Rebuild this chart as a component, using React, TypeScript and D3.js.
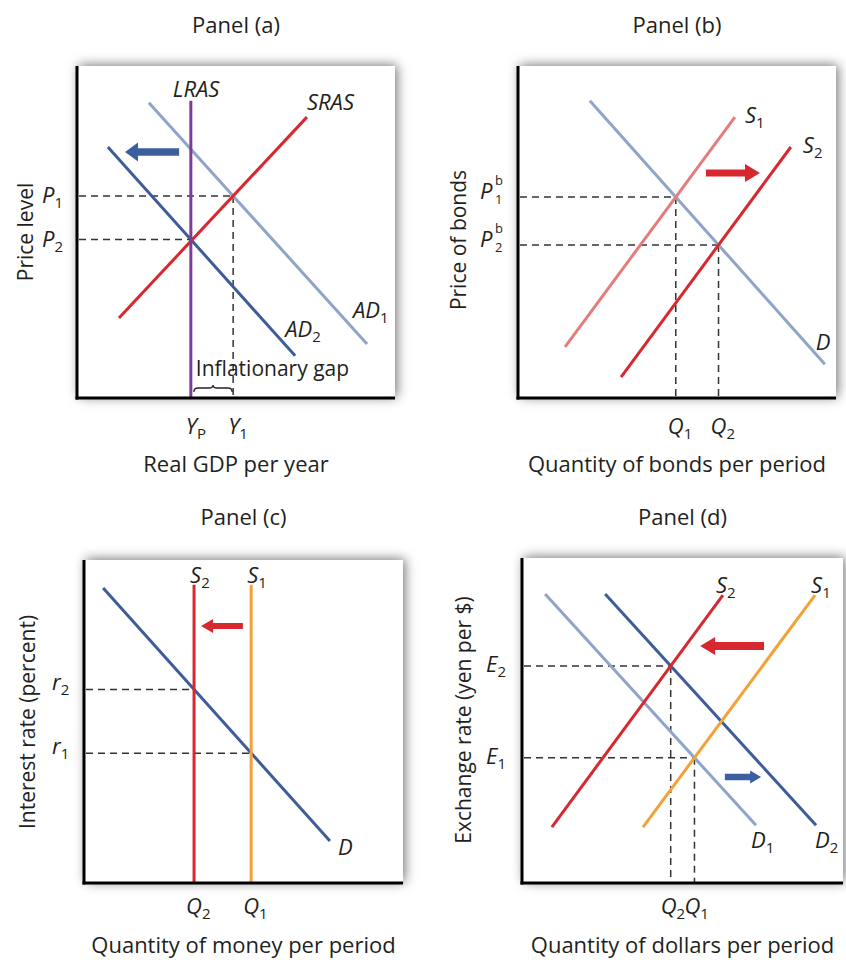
import React from 'react';
import * as d3 from 'd3';

type Pt = [number, number];
interface Curve { id: string; name: string; sub?: string; pts: Pt[] }
interface Eq { cross: [string, string]; yLab: string[]; xLab: string[]; hDash: boolean; vDash: boolean }
interface Shift { id: string; from: Pt; to: Pt }

// ---------------- Panel (a) ----------------
const aTitle = 'Panel (a)';
const aXTitle = 'Real GDP per year';
const aYTitle = 'Price level';
const aCurves: Curve[] = [
  { id: 'AD1', name: 'AD', sub: '1', pts: [[22.6, 88.9], [91.2, 16.3]] },
  { id: 'AD2', name: 'AD', sub: '2', pts: [[9.7, 75.6], [68.6, 12.7]] },
  { id: 'SRAS', name: 'SRAS', pts: [[13.2, 24.1], [72.3, 84.6]] },
  { id: 'LRAS', name: 'LRAS', pts: [[35.8, 0], [35.8, 89.5]] },
];
const aEquilibria: Eq[] = [
  { cross: ['AD1', 'SRAS'], yLab: ['P', '1'], xLab: ['Y', '1'], hDash: true, vDash: true },
  { cross: ['AD2', 'LRAS'], yLab: ['P', '2'], xLab: ['Y', 'P'], hDash: true, vDash: false },
];
const aShifts: Shift[] = [{ id: 'blueL', from: [32.1, 74.1], to: [15.1, 74.1] }];
const aGapLabel = 'Inflationary gap';

// ---------------- Panel (b) ----------------
const bTitle = 'Panel (b)';
const bXTitle = 'Quantity of bonds per period';
const bYTitle = 'Price of bonds';
const bCurves: Curve[] = [
  { id: 'D', name: 'D', pts: [[22.6, 89.5], [96.5, 10.2]] },
  { id: 'S1', name: 'S', sub: '1', pts: [[14.8, 15.4], [68.2, 84.6]] },
  { id: 'S2', name: 'S', sub: '2', pts: [[32.4, 6.3], [85.8, 75.6]] },
];
const bEquilibria: Eq[] = [
  { cross: ['D', 'S1'], yLab: ['P', '1', 'b'], xLab: ['Q', '1'], hDash: true, vDash: true },
  { cross: ['D', 'S2'], yLab: ['P', '2', 'b'], xLab: ['Q', '2'], hDash: true, vDash: true },
];
const bShifts: Shift[] = [{ id: 'redR', from: [59.1, 67.8], to: [76.1, 67.8] }];

// ---------------- Panel (c) ----------------
const cTitle = 'Panel (c)';
const cXTitle = 'Quantity of money per period';
const cYTitle = 'Interest rate (percent)';
const cCurves: Curve[] = [
  { id: 'D', name: 'D', pts: [[6.0, 91.3], [77.1, 13.0]] },
  { id: 'S2', name: 'S', sub: '2', pts: [[34.5, 0], [34.5, 92.3]] },
  { id: 'S1', name: 'S', sub: '1', pts: [[52.4, 0], [52.4, 92.3]] },
];
const cEquilibria: Eq[] = [
  { cross: ['D', 'S2'], yLab: ['r', '2'], xLab: ['Q', '2'], hDash: true, vDash: false },
  { cross: ['D', 'S1'], yLab: ['r', '1'], xLab: ['Q', '1'], hDash: true, vDash: false },
];
const cShifts: Shift[] = [{ id: 'redS', from: [49.8, 79.6], to: [36.7, 79.6] }];

// ---------------- Panel (d) ----------------
const dTitle = 'Panel (d)';
const dXTitle = 'Quantity of dollars per period';
const dYTitle = 'Exchange rate (yen per $)';
const dCurves: Curve[] = [
  { id: 'D1', name: 'D', sub: '1', pts: [[7.2, 88.9], [72.9, 17.8]] },
  { id: 'D2', name: 'D', sub: '2', pts: [[25.9, 88.9], [91.6, 17.8]] },
  { id: 'S1', name: 'S', sub: '1', pts: [[37.7, 17.2], [91.3, 88.6]] },
  { id: 'S2', name: 'S', sub: '2', pts: [[9.3, 17.2], [62.6, 88.6]] },
];
const dEquilibria: Eq[] = [
  { cross: ['D2', 'S2'], yLab: ['E', '2'], xLab: ['Q', '2'], hDash: true, vDash: true },
  { cross: ['D1', 'S1'], yLab: ['E', '1'], xLab: ['Q', '1'], hDash: true, vDash: true },
];
const dShifts: Shift[] = [
  { id: 'redD', from: [75.4, 72.9], to: [55.5, 72.9] },
  { id: 'blueD', from: [63.2, 32.6], to: [74.5, 32.6] },
];

// ---------------- Styles & layout ----------------
const RED = '#d7282f';
const LIGHTBLUE = '#8fa4c9';
const DARKBLUE = '#3e5c9a';
const ORANGE = '#f4a238';
const PINK = '#e47c7c';
const PURPLE = '#7d3c98';
const INK = '#231f20';
const FONT = '"Open Sans", sans-serif';

interface Layout {
  box: [number, number, number, number];
  titleY: number; xTitleY: number; yTitleX: number; yTitleCy: number;
  colors: Record<string, string>;
  labelOff: Record<string, Pt>;
  yTickDx: number; yTickDy: number; xTickDx: number; xTickDy: number;
  arrows: Record<string, { color: string; shaft: number; head: number; half: number }>;
}

const LA: Layout = {
  box: [77, 66, 395, 398], titleY: 33, xTitleY: 472, yTitleX: 33, yTitleCy: 232,
  colors: { LRAS: PURPLE, SRAS: RED, AD1: LIGHTBLUE, AD2: DARKBLUE },
  labelOff: { LRAS: [-18, -4], SRAS: [0, -7], AD1: [-14, -26], AD2: [-10, -19] },
  yTickDx: -35, yTickDy: 7, xTickDx: -5, xTickDy: 36,
  arrows: { blueL: { color: '#3d5fa0', shaft: 7.5, head: 13, half: 9.5 } },
};
const LB: Layout = {
  box: [518, 66, 836, 398], titleY: 33, xTitleY: 472, yTitleX: 466, yTitleCy: 240,
  colors: { D: LIGHTBLUE, S1: PINK, S2: RED },
  labelOff: { S1: [10, 6], S2: [12, 6], D: [-9, -14] },
  yTickDx: -38, yTickDy: 2, xTickDx: -8, xTickDy: 36,
  arrows: { redR: { color: RED, shaft: 7, head: 15, half: 9 } },
};
const LC: Layout = {
  box: [84, 560, 403, 883], titleY: 525, xTitleY: 953, yTitleX: 35, yTitleCy: 722,
  colors: { D: DARKBLUE, S1: ORANGE, S2: RED },
  labelOff: { S1: [-4, -2], S2: [-4, -2], D: [8, 14] },
  yTickDx: -32, yTickDy: 1, xTickDx: -8, xTickDy: 31,
  arrows: { redS: { color: RED, shaft: 6, head: 12, half: 7 } },
};
const LD: Layout = {
  box: [522, 558, 843, 883], titleY: 525, xTitleY: 953, yTitleX: 471, yTitleCy: 720,
  colors: { D1: LIGHTBLUE, D2: DARKBLUE, S1: ORANGE, S2: RED },
  labelOff: { S1: [-4, -2], S2: [-7, -2], D1: [-5, 23], D2: [-1, 23] },
  yTickDx: -36, yTickDy: 6, xTickDx: -10, xTickDy: 31,
  arrows: {
    redD: { color: RED, shaft: 8, head: 15, half: 9 },
    blueD: { color: '#3d5fa0', shaft: 6.5, head: 11, half: 6.5 },
  },
};

function intersect(p: Pt[], q: Pt[]): Pt {
  const [[x1, y1], [x2, y2]] = p;
  const [[x3, y3], [x4, y4]] = q;
  const den = (x1 - x2) * (y3 - y4) - (y1 - y2) * (x3 - x4);
  const t = ((x1 - x3) * (y3 - y4) - (y1 - y3) * (x3 - x4)) / den;
  return [x1 + t * (x2 - x1), y1 + t * (y2 - y1)];
}

function arrowPath(x1: number, y1: number, x2: number, y2: number, shaft: number, head: number, half: number) {
  const dx = x2 - x1, dy = y2 - y1, L = Math.hypot(dx, dy);
  const ux = dx / L, uy = dy / L, nx = -uy, ny = ux;
  const bx = x2 - ux * head, by = y2 - uy * head, s = shaft / 2;
  const pts: Pt[] = [
    [x1 + nx * s, y1 + ny * s], [bx + nx * s, by + ny * s], [bx + nx * half, by + ny * half],
    [x2, y2], [bx - nx * half, by - ny * half], [bx - nx * s, by - ny * s], [x1 - nx * s, y1 - ny * s],
  ];
  return (d3.line()(pts) || '') + 'Z';
}

function Sym({ x, y, main, sub, sup, size = 22 }:
  { x: number; y: number; main: string; sub?: string; sup?: string; size?: number }) {
  const ss = 15;
  if (sup) {
    return (
      <g fill={INK} fontFamily={FONT}>
        <text x={x} y={y} fontSize={size} fontStyle="italic">{main}</text>
        <text x={x + 15} y={y - 14} fontSize={13}>{sup}</text>
        <text x={x + 15} y={y + 5} fontSize={13}>{sub}</text>
      </g>
    );
  }
  return (
    <text x={x} y={y} fontSize={size} fontStyle="italic" fill={INK} fontFamily={FONT}>
      <tspan>{main}</tspan>
      {sub && <tspan fontStyle="normal" fontSize={ss} dy={5}>{sub}</tspan>}
    </text>
  );
}

function Panel({ L, title, xTitle, yTitle, curves, eqs, shifts, gap }:
  { L: Layout; title: string; xTitle: string; yTitle: string; curves: Curve[]; eqs: Eq[]; shifts: Shift[]; gap?: string }) {
  const [x0, y0, x1, y1] = L.box;
  const xs = d3.scaleLinear().domain([0, 100]).range([x0, x1]);
  const ys = d3.scaleLinear().domain([0, 100]).range([y1, y0]);
  const line = d3.line<Pt>().x(d => xs(d[0])).y(d => ys(d[1]));
  const byId: Record<string, Curve> = {};
  curves.forEach(c => { byId[c.id] = c; });
  const pts = eqs.map(e => intersect(byId[e.cross[0]].pts, byId[e.cross[1]].pts));
  const cx = (x0 + x1) / 2;
  return (
    <g>
      <rect x={x0} y={y0} width={x1 - x0} height={y1 - y0} fill="#fff" filter="url(#shadow)" />
      {eqs.map((e, i) => {
        const px = xs(pts[i][0]), py = ys(pts[i][1]);
        return (
          <g key={'g' + i} stroke="#333" strokeWidth={1.5} strokeDasharray="7 5" fill="none">
            {e.hDash && <line x1={x0 + 2} x2={px} y1={py} y2={py} />}
            {e.vDash && <line x1={px} x2={px} y1={py} y2={y1} />}
          </g>
        );
      })}
      {curves.map(c => (
        <path key={c.id} d={line(c.pts) || ''} stroke={L.colors[c.id]} strokeWidth={3} fill="none" />
      ))}
      {shifts.map(s => {
        const st = L.arrows[s.id];
        return (
          <path key={s.id} d={arrowPath(xs(s.from[0]), ys(s.from[1]), xs(s.to[0]), ys(s.to[1]), st.shaft, st.head, st.half)}
            fill={st.color} />
        );
      })}
      <line x1={x0} x2={x0} y1={y0} y2={y1 + 1.5} stroke="#000" strokeWidth={3} />
      <line x1={x0 - 1.5} x2={x1} y1={y1} y2={y1} stroke="#000" strokeWidth={3} />
      {curves.map(c => {
        const end = c.pts[c.pts.length - 1];
        const off = L.labelOff[c.id];
        return <Sym key={'l' + c.id} x={xs(end[0]) + off[0]} y={ys(end[1]) + off[1]} main={c.name} sub={c.sub} />;
      })}
      {eqs.map((e, i) => (
        <g key={'t' + i}>
          <Sym x={x0 + L.yTickDx} y={ys(pts[i][1]) + L.yTickDy} main={e.yLab[0]} sub={e.yLab[1]} sup={e.yLab[2]} />
          <Sym x={xs(pts[i][0]) + L.xTickDx} y={y1 + L.xTickDy} main={e.xLab[0]} sub={e.xLab[1]} />
        </g>
      ))}
      {gap && (() => {
        const a = xs(pts[1][0]) + 3, b = xs(pts[0][0]) - 1, m = (a + b) / 2, yb = y1 - 6, yt = y1 - 10;
        const d = `M${a},${yb} Q${a},${yt} ${a + 4},${yt} L${m - 4},${yt} Q${m},${yt} ${m},${yt - 3} Q${m},${yt} ${m + 4},${yt} L${b - 4},${yt} Q${b},${yt} ${b},${yb}`;
        return (
          <g>
            <path d={d} stroke="#222" strokeWidth={1.3} fill="none" />
            <text x={a + 2} y={y1 - 22} fontSize={21} fill={INK} fontFamily={FONT}>{gap}</text>
          </g>
        );
      })()}
      <text x={cx} y={L.titleY} textAnchor="middle" fontSize={22} fill={INK} fontFamily={FONT}>{title}</text>
      <text x={cx} y={L.xTitleY} textAnchor="middle" fontSize={22} fill={INK} fontFamily={FONT}>{xTitle}</text>
      <text transform={`translate(${L.yTitleX},${L.yTitleCy}) rotate(-90)`} textAnchor="middle" fontSize={21}
        fill={INK} fontFamily={FONT}>{yTitle}</text>
    </g>
  );
}

export default function App() {
  return (
    <svg width={846} height={960} style={{ position: 'absolute', left: 0, top: 0, background: '#fff' }}>
      <defs>
        <filter id="shadow" x="-15%" y="-15%" width="130%" height="130%">
          <feDropShadow dx={2} dy={-1} stdDeviation={6} floodColor="#000" floodOpacity={0.55} />
        </filter>
      </defs>
      <rect x={0} y={0} width={846} height={960} fill="#fff" />
      <Panel L={LA} title={aTitle} xTitle={aXTitle} yTitle={aYTitle} curves={aCurves} eqs={aEquilibria} shifts={aShifts} gap={aGapLabel} />
      <Panel L={LB} title={bTitle} xTitle={bXTitle} yTitle={bYTitle} curves={bCurves} eqs={bEquilibria} shifts={bShifts} />
      <Panel L={LC} title={cTitle} xTitle={cXTitle} yTitle={cYTitle} curves={cCurves} eqs={cEquilibria} shifts={cShifts} />
      <Panel L={LD} title={dTitle} xTitle={dXTitle} yTitle={dYTitle} curves={dCurves} eqs={dEquilibria} shifts={dShifts} />
    </svg>
  );
}
